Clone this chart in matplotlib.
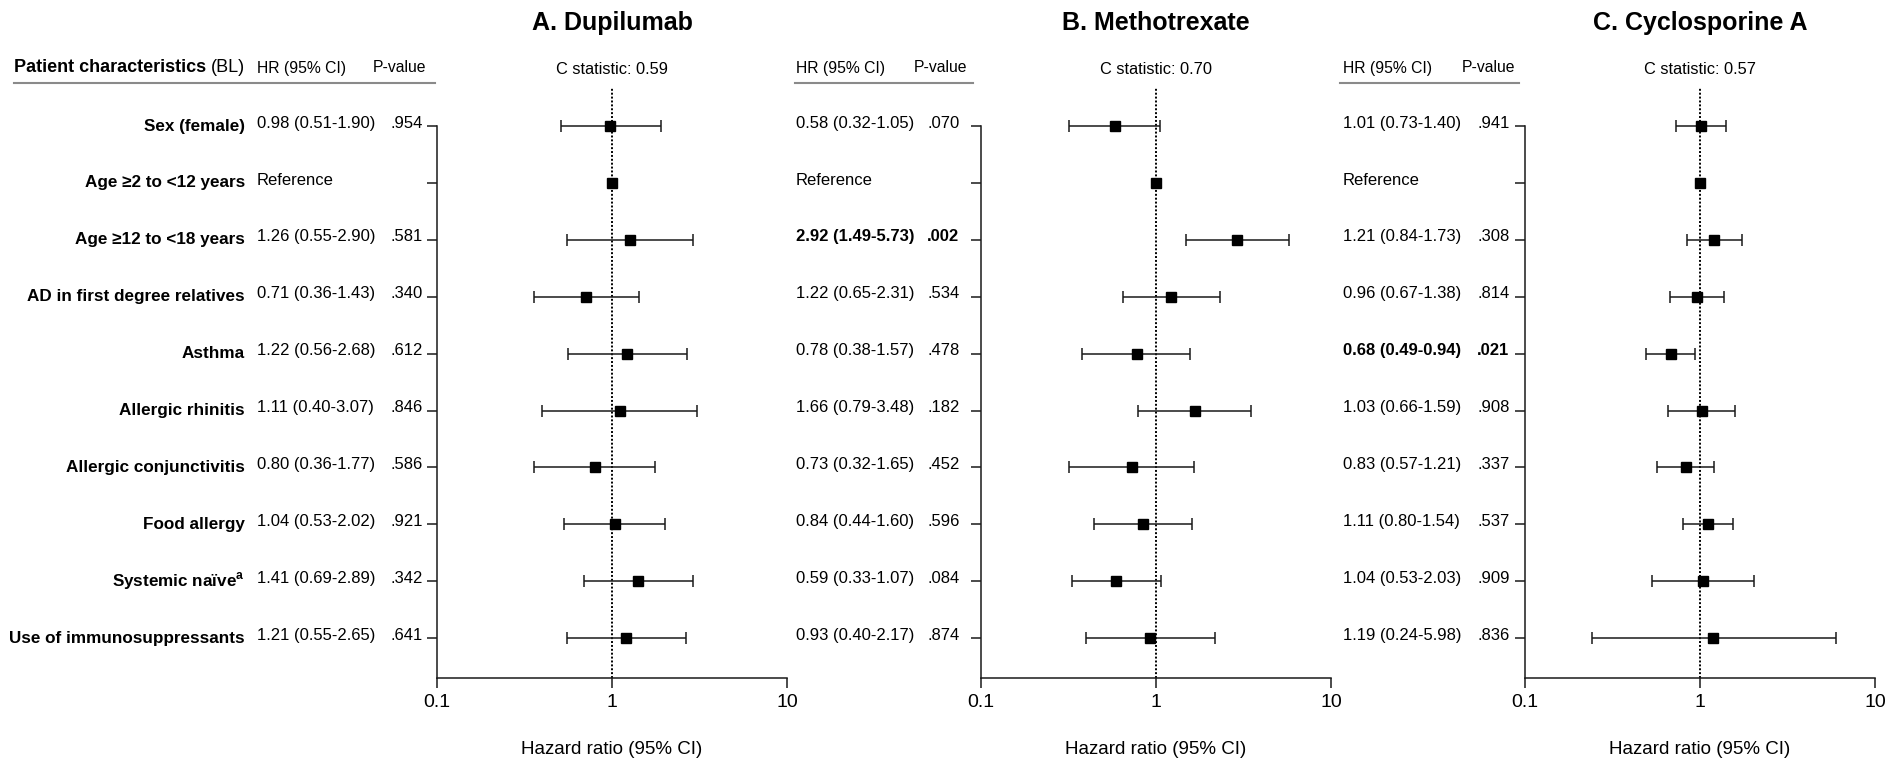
import numpy as np
import matplotlib
matplotlib.use("Agg")
import matplotlib.pyplot as plt
from matplotlib.transforms import blended_transform_factory
from matplotlib.ticker import NullLocator

plt.rcParams['font.family'] = ['Liberation Sans', 'DejaVu Sans']
plt.rcParams['mathtext.fontset'] = 'custom'
plt.rcParams['mathtext.rm'] = 'Liberation Sans'
plt.rcParams['mathtext.bf'] = 'Liberation Sans:bold'

# Row labels (baseline patient characteristics)
characteristics = ["Sex (female)", "Age \u22652 to <12 years", "Age \u226512 to <18 years",
                   "AD in first degree relatives", "Asthma", "Allergic rhinitis",
                   "Allergic conjunctivitis", "Food allergy",
                   "Systemic na\u00efve" + r"$^{\mathbf{a}}$",
                   "Use of immunosuppressants"]
ref_row = 1  # "Age >=2 to <12 years" is the reference category

titles = ["A. Dupilumab", "B. Methotrexate", "C. Cyclosporine A"]
c_stats = ["0.59", "0.70", "0.57"]

# Dupilumab
dup_hr = [0.98, None, 1.26, 0.71, 1.22, 1.11, 0.80, 1.04, 1.41, 1.21]
dup_lo = [0.51, None, 0.55, 0.36, 0.56, 0.40, 0.36, 0.53, 0.69, 0.55]
dup_hi = [1.90, None, 2.90, 1.43, 2.68, 3.07, 1.77, 2.02, 2.89, 2.65]
dup_p = [".954", "", ".581", ".340", ".612", ".846", ".586", ".921", ".342", ".641"]
dup_sig = [False] * 10

# Methotrexate
mtx_hr = [0.58, None, 2.92, 1.22, 0.78, 1.66, 0.73, 0.84, 0.59, 0.93]
mtx_lo = [0.32, None, 1.49, 0.65, 0.38, 0.79, 0.32, 0.44, 0.33, 0.40]
mtx_hi = [1.05, None, 5.73, 2.31, 1.57, 3.48, 1.65, 1.60, 1.07, 2.17]
mtx_p = [".070", "", ".002", ".534", ".478", ".182", ".452", ".596", ".084", ".874"]
mtx_sig = [False, False, True, False, False, False, False, False, False, False]

# Cyclosporine A
csa_hr = [1.01, None, 1.21, 0.96, 0.68, 1.03, 0.83, 1.11, 1.04, 1.19]
csa_lo = [0.73, None, 0.84, 0.67, 0.49, 0.66, 0.57, 0.80, 0.53, 0.24]
csa_hi = [1.40, None, 1.73, 1.38, 0.94, 1.59, 1.21, 1.54, 2.03, 5.98]
csa_p = [".941", "", ".308", ".814", ".021", ".908", ".337", ".537", ".909", ".836"]
csa_sig = [False, False, False, False, True, False, False, False, False, False]

panels = [(dup_hr, dup_lo, dup_hi, dup_p, dup_sig),
          (mtx_hr, mtx_lo, mtx_hi, mtx_p, mtx_sig),
          (csa_hr, csa_lo, csa_hi, csa_p, csa_sig)]

# layout in pixels of the 1885x763 canvas
W, H = 1885, 763
axes_left = [437, 981, 1525]
axes_w = 350
axes_top, axes_bot = 88, 678
row0_px, row_step = 126, 56.9
hr_col = [257, 796, 1343]
p_col = [390, 927, 1477]
p_head = [373, 914, 1462]
line_span = [(14, 435), (795, 973), (1340, 1519)]

fig = plt.figure(figsize=(W / 100, H / 100), dpi=100)

def fx(px):
    return px / W

def fy(py):
    return 1 - py / H

rows = np.arange(len(characteristics))
y_top = -(row0_px - axes_top) / row_step
y_bot = (axes_bot - row0_px) / row_step
ink = '#1a1a1a'

for k, (hr, lo, hi, pv, sig) in enumerate(panels):
    ax = fig.add_axes([fx(axes_left[k]), fy(axes_bot), axes_w / W, (axes_bot - axes_top) / H])
    ax.set_xscale('log')
    ax.set_xlim(0.1, 10)
    ax.set_ylim(y_bot, y_top)
    ax.set_xticks([0.1, 1, 10])
    ax.set_xticklabels(["0.1", "1", "10"], fontsize=14)
    ax.xaxis.set_minor_locator(NullLocator())
    ax.set_yticks(rows)
    ax.set_yticklabels([])
    ax.tick_params(axis='both', direction='out', length=7.5, width=1.1, color=ink)
    ax.tick_params(axis='x', pad=4)
    for s in ['top', 'right']:
        ax.spines[s].set_visible(False)
    ax.spines['left'].set_bounds(0, y_bot)
    for s in ['left', 'bottom']:
        ax.spines[s].set_linewidth(1.1)
        ax.spines[s].set_color(ink)
    ax.patch.set_alpha(0)

    ax.axvline(1, color='black', lw=1.4, ls=(0, (1, 1)), zorder=1)

    idx = [i for i in rows if hr[i] is not None]
    h = np.array([hr[i] for i in idx])
    l = np.array([lo[i] for i in idx])
    u = np.array([hi[i] for i in idx])
    ax.errorbar(h, idx, xerr=[h - l, u - h], fmt='s', ms=7.5, color='black',
                ecolor=ink, elinewidth=1.1, capsize=4, capthick=1.1, zorder=3)
    ax.plot([1], [ref_row], 's', ms=7.5, color='black', zorder=3)

    tr = blended_transform_factory(fig.transFigure, ax.transData)
    trx = blended_transform_factory(ax.transData, fig.transFigure)

    ax.text(1, fy(23), titles[k], transform=trx, ha='center', va='center',
            fontsize=18, fontweight='bold')
    ax.text(1, fy(70), "C statistic: " + c_stats[k], transform=trx, ha='center',
            va='center', fontsize=11.8)
    ax.text(1, fy(750), "Hazard ratio (95% CI)", transform=trx, ha='center',
            va='center', fontsize=13.5)

    # column headers
    fig.text(fx(hr_col[k]), fy(68), "HR (95% CI)", ha='left', va='center', fontsize=11.3)
    fig.text(fx(p_head[k]), fy(68), "P-value", ha='left', va='center', fontsize=11.3)
    x0, x1 = line_span[k]
    fig.add_artist(plt.Line2D([fx(x0), fx(x1)], [fy(83), fy(83)], color='#8a8a8a', lw=1.5))

    for i in rows:
        wt = 'bold' if sig[i] else 'normal'
        if hr[i] is None:
            txt = "Reference"
        else:
            txt = f"{hr[i]:.2f} ({lo[i]:.2f}-{hi[i]:.2f})"
        ax.text(fx(hr_col[k]), i - 0.05, txt, transform=tr, ha='left', va='center',
                fontsize=12, fontweight=wt)
        ax.text(fx(p_col[k]), i - 0.05, pv[i], transform=tr, ha='left', va='center',
                fontsize=12, fontweight=wt)
        if k == 0:
            ax.text(fx(245), i, characteristics[i], transform=tr, ha='right',
                    va='center', fontsize=12.3, fontweight='bold')

head = fig.text(fx(14), fy(68), "Patient characteristics", ha='left', va='center',
                fontsize=13, fontweight='bold')
fig.add_artist(plt.Annotation("(BL)", xy=(1, 0), xycoords=head, xytext=(3.5, 0),
                              textcoords='offset points', ha='left', va='bottom',
                              fontsize=13))

fig.savefig("out.png", dpi=100)
